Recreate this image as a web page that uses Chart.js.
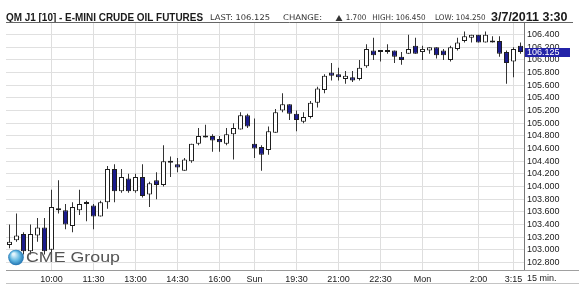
<!DOCTYPE html>
<html>
<head>
<meta charset="utf-8">
<script src="https://cdn.jsdelivr.net/npm/chart.js@4.4.1/dist/chart.umd.min.js"></script>
<style>
  html, body { margin: 0; padding: 0; background: #fff; overflow: hidden; }
  #wrap { width: 579px; height: 292px; position: relative; }
</style>
</head>
<body>
<div id="wrap"><canvas id="chart"></canvas></div>
<script>
// QM J1 - e-mini crude, 15 min bars, Fri 8:30 -> Mon 3:30

const categories = [
  '8:30','8:45','9:00','9:15','9:30','9:45','10:00','10:15','10:30','10:45','11:00','11:15',
  '11:30','11:45','12:00','12:15','12:30','12:45','13:00','13:15','13:30','13:45','14:00','14:15',
  '14:30','14:45','15:00','15:15','15:30','15:45','16:00','16:15','16:30','16:45','17:00',
  'Sun 18:00','18:15','18:30','18:45','19:00','19:15','19:30','19:45','20:00','20:15','20:30','20:45',
  '21:00','21:15','21:30','21:45','22:00','22:15','22:30','22:45','23:00','23:15','23:30','23:45',
  'Mon 0:00','0:15','0:30','0:45','1:00','1:15','1:30','1:45','2:00','2:15','2:30','2:45','3:00',
  '3:15','3:30'
];

const opens = [
  103.075,103.150,103.250,102.975,103.225,103.350,103.000,103.625,103.625,103.375,103.625,103.725,
  103.700,103.525,103.750,104.275,103.925,104.125,103.925,104.150,103.875,104.100,104.025,104.375,
  104.350,104.250,104.400,104.675,104.775,104.800,104.750,104.675,104.825,104.900,105.125,
  104.675,104.625,104.575,104.850,105.200,105.300,105.150,105.025,105.100,105.325,105.525,105.800,
  105.775,105.700,105.725,105.700,105.900,106.150,106.125,106.150,106.150,106.050,106.100,106.225,
  106.125,106.150,106.200,106.150,106.000,106.175,106.300,106.350,106.400,106.275,106.275,106.300,106.125,
  105.975,106.225
];
const highs = [
  103.400,103.575,103.275,103.400,103.500,103.500,103.950,104.100,103.725,103.750,103.950,103.775,
  103.725,103.775,104.325,104.350,104.275,104.200,104.200,104.350,104.075,104.225,104.650,104.475,
  104.450,104.450,104.675,104.925,104.975,104.825,104.800,104.925,105.000,105.175,105.150,
  105.075,104.650,104.950,105.225,105.475,105.300,105.200,105.175,105.350,105.575,105.775,105.950,
  105.875,105.825,105.825,106.000,106.250,106.350,106.150,106.250,106.150,106.125,106.400,106.350,
  106.225,106.200,106.200,106.175,106.225,106.350,106.450,106.400,106.400,106.450,106.375,106.375,106.150,
  106.200,106.275
];
const lows = [
  103.025,103.125,102.925,102.925,103.125,102.925,102.950,103.575,103.325,103.275,103.550,103.450,
  103.325,103.525,103.650,103.750,103.900,103.900,103.900,103.825,103.675,103.800,104.000,104.150,
  104.225,104.250,104.375,104.650,104.775,104.550,104.550,104.650,104.425,104.900,104.925,
  104.450,104.250,104.500,104.850,105.175,105.050,104.875,105.000,105.075,105.250,105.475,105.675,
  105.675,105.625,105.650,105.675,105.875,106.000,105.975,106.100,105.950,105.925,106.100,106.100,
  106.000,106.100,106.025,106.000,105.975,106.150,106.275,106.275,106.275,106.275,106.275,106.050,105.625,
  105.725,106.100
];
const closes = [
  103.125,103.225,102.975,103.250,103.350,102.975,103.675,103.625,103.400,103.675,103.725,103.725,
  103.525,103.750,104.275,103.925,104.150,103.925,104.150,103.850,104.050,104.025,104.400,104.375,
  104.300,104.425,104.675,104.800,104.800,104.725,104.700,104.825,104.925,105.125,104.950,
  104.600,104.500,104.875,105.175,105.300,105.150,105.050,105.100,105.325,105.550,105.750,105.750,
  105.725,105.750,105.675,105.875,106.175,106.075,106.125,106.125,106.050,106.000,106.175,106.100,
  106.175,106.200,106.075,106.075,106.200,106.275,106.375,106.400,106.275,106.400,106.275,106.100,105.950,
  106.175,106.125
];

const yTicks = [102.8,103.0,103.2,103.4,103.6,103.8,104.0,104.2,104.4,104.6,104.8,105.0,105.2,105.4,105.6,105.8,106.0,106.2,106.4];
const xTicks = ['10:00','11:30','13:00','14:30','16:00','Sun 18:00','19:30','21:00','22:30','Mon 0:00','2:00','3:15'];

const UP = '#ffffff', DOWN = '#1b1b8c', FLAT = '#111111';

const bodies = opens.map((o, i) => [Math.min(o, closes[i]), Math.max(o, closes[i])]);
const wicks = lows.map((l, i) => [l, highs[i]]);
const bodyColors = opens.map((o, i) => closes[i] > o ? UP : (closes[i] < o ? DOWN : FLAT));

// stretch text into a given width, the gif fonts are narrower/wider than ours
function fitText(ctx, txt, x, y, w, font, color) {
  ctx.font = font;
  ctx.fillStyle = color;
  const m = ctx.measureText(txt).width;
  ctx.save();
  ctx.translate(x, y);
  ctx.scale(w / m, 1);
  ctx.textAlign = 'left';
  ctx.textBaseline = 'alphabetic';
  ctx.fillText(txt, 0, 0);
  ctx.restore();
}

const bgPlugin = {
  id: 'bg',
  beforeDraw(chart) {
    const ctx = chart.ctx;
    ctx.save();
    ctx.fillStyle = '#fff';
    ctx.fillRect(0, 0, chart.width, chart.height);
    ctx.restore();
  }
};

const logoPlugin = {
  id: 'logo',
  afterDatasetsDraw(chart) {
    const ctx = chart.ctx;
    ctx.save();
    const g = ctx.createRadialGradient(13.5, 254, 1, 16, 257.5, 8);
    g.addColorStop(0, '#e4f5fc');
    g.addColorStop(0.55, '#62b8e2');
    g.addColorStop(1, '#1d6fae');
    ctx.fillStyle = g;
    ctx.beginPath();
    ctx.arc(16, 257.5, 7.8, 0, Math.PI * 2);
    ctx.fill();
    fitText(ctx, 'CME Group', 26, 261.5, 94, '15.5px "Liberation Sans", Arial, sans-serif', '#555555');
    ctx.restore();
  }
};

const framePlugin = {
  id: 'frame',
  afterDraw(chart) {
    const ctx = chart.ctx;
    const a = chart.chartArea;
    const y = chart.scales.y;
    ctx.save();

    // header
    fitText(ctx, 'QM J1 [10] - E-MINI CRUDE OIL FUTURES', 6, 20.5, 197, 'bold 11px "Liberation Sans", Arial, sans-serif', '#1a1a1a');
    const sf = '7.8px "DejaVu Sans", Verdana, sans-serif';
    fitText(ctx, 'LAST: 106.125', 210, 20.3, 60, sf, '#333');
    fitText(ctx, 'CHANGE:', 283, 20.3, 39, sf, '#333');
    fitText(ctx, '▲', 335.5, 20.3, 7, sf, '#333');
    fitText(ctx, '1.700', 345.7, 20.3, 20.6, sf, '#333');
    fitText(ctx, 'HIGH: 106.450', 372.3, 20.3, 53.4, sf, '#333');
    fitText(ctx, 'LOW: 104.250', 435, 20.3, 50.7, sf, '#333');
    fitText(ctx, '3/7/2011 3:30', 491, 20.5, 76.5, 'bold 12px "Liberation Sans", Arial, sans-serif', '#1a1a1a');

    // plot top line + bottom row line
    ctx.strokeStyle = '#666';
    ctx.lineWidth = 1;
    ctx.beginPath();
    ctx.moveTo(a.left, Math.round(a.top) + 0.5);
    ctx.lineTo(573, Math.round(a.top) + 0.5);
    ctx.stroke();
    ctx.strokeStyle = '#c4c4c4';
    ctx.beginPath();
    ctx.moveTo(a.left, 283.5);
    ctx.lineTo(579, 283.5);
    ctx.stroke();
    ctx.strokeStyle = '#a0a0a0';
    ctx.beginPath();
    ctx.moveTo(a.right, a.bottom + 0.5);
    ctx.lineTo(579, a.bottom + 0.5);
    ctx.stroke();

    // bar period
    ctx.font = '9px "Liberation Sans", Arial, sans-serif';
    ctx.fillStyle = '#1a1a1a';
    ctx.textBaseline = 'middle';
    ctx.textAlign = 'left';
    ctx.fillText('15 min.', 527, 278.5);

    // last price tag
    const last = closes[closes.length - 1];
    const py = y.getPixelForValue(last);
    ctx.fillStyle = '#2323a8';
    ctx.fillRect(a.right + 1, Math.round(py - 4.5), 45, 9);
    ctx.fillStyle = '#fff';
    ctx.fillText(last.toFixed(3), 527, py + 0.5);
    ctx.restore();
  }
};

new Chart(document.getElementById('chart'), {
  type: 'bar',
  data: {
    labels: categories,
    datasets: [
      {
        label: 'body',
        data: bodies,
        backgroundColor: bodyColors,
        borderColor: '#1e1e1e',
        borderWidth: 1,
        borderSkipped: false,
        barThickness: 5,
        minBarLength: 2,
        inflateAmount: 0,
        grouped: false,
        order: 0
      },
      {
        label: 'wick',
        data: wicks,
        backgroundColor: '#333333',
        borderWidth: 0,
        barThickness: 1,
        inflateAmount: 0,
        grouped: false,
        order: 1
      }
    ]
  },
  options: {
    responsive: true,
    maintainAspectRatio: false,
    animation: false,
    devicePixelRatio: 1,
    layout: { padding: { left: 6, top: 22, right: 0, bottom: 0 } },
    plugins: { legend: { display: false }, tooltip: { enabled: false } },
    scales: {
      x: {
        type: 'category',
        offset: true,
        grid: { offset: false, color: '#dedede', lineWidth: 1, drawTicks: false },
        border: { display: true, color: '#9a9a9a' },
        afterBuildTicks: (scale) => {
          scale.ticks = scale.ticks.filter(t => xTicks.includes(categories[t.value]));
        },
        afterFit: (scale) => { scale.height = 22; },
        ticks: {
          autoSkip: false,
          maxRotation: 0,
          padding: 4,
          color: '#1a1a1a',
          font: { family: '"Liberation Sans", Arial, sans-serif', size: 9 },
          callback: function (v) { return this.getLabelForValue(v).split(' ')[0]; }
        }
      },
      y: {
        position: 'right',
        min: 102.68,
        max: 106.6,
        grid: { color: '#e0e0e0', lineWidth: 1, drawTicks: false },
        border: { display: true, color: '#777777' },
        afterBuildTicks: (scale) => { scale.ticks = yTicks.map(v => ({ value: v })); },
        afterFit: (scale) => { scale.width = 55; },
        ticks: {
          autoSkip: false,
          padding: 3,
          color: '#1a1a1a',
          font: { family: '"Liberation Sans", Arial, sans-serif', size: 9 },
          callback: (v) => Number(v).toFixed(3)
        }
      }
    }
  },
  plugins: [bgPlugin, logoPlugin, framePlugin]
});
</script>
</body>
</html>
